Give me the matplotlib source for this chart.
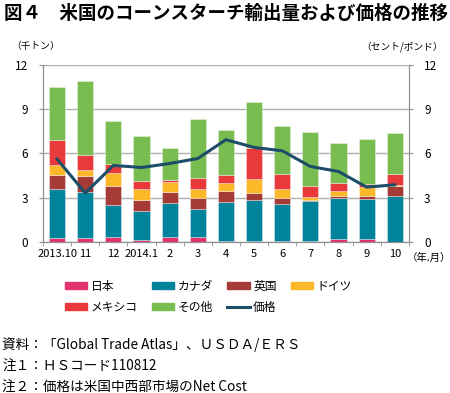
import matplotlib
matplotlib.use("Agg")
import matplotlib.pyplot as plt
import numpy as np
from matplotlib.patches import Patch
from matplotlib.lines import Line2D

plt.rcParams['font.family'] = ['Noto Sans CJK JP', 'DejaVu Sans']

months = ["2013.10", "11", "12", "2014.1", "2", "3", "4", "5", "6", "7", "8", "9", "10"]
japan   = [0.30, 0.27, 0.32, 0.16, 0.36, 0.34, 0.09, 0.07, 0.05, 0.05, 0.20, 0.20, 0.02]
canada  = [3.30, 3.09, 2.16, 1.92, 2.32, 1.89, 2.62, 2.75, 2.52, 2.70, 2.78, 2.71, 3.07]
uk      = [0.92, 1.11, 1.29, 0.78, 0.70, 0.73, 0.72, 0.47, 0.39, 0.11, 0.11, 0.18, 0.68]
germany = [0.70, 0.40, 0.88, 0.73, 0.66, 0.63, 0.59, 0.95, 0.65, 0.16, 0.34, 0.65, 0.09]
mexico  = [1.69, 1.02, 0.67, 0.56, 0.16, 0.72, 0.49, 2.14, 0.99, 0.81, 0.56, 0.21, 0.72]
other   = [3.57, 5.00, 2.89, 3.02, 2.16, 4.01, 3.05, 3.12, 3.23, 3.64, 2.75, 3.04, 2.82]
price   = [5.62, 3.32, 5.19, 5.05, 5.32, 5.66, 6.93, 6.41, 6.18, 5.12, 4.78, 3.72, 3.88]

series = [("日本", japan, "#E2336F"), ("カナダ", canada, "#00849B"),
          ("英国", uk, "#A43B36"), ("ドイツ", germany, "#FBB829"),
          ("メキシコ", mexico, "#E8393B"), ("その他", other, "#79BD50")]
line_color = "#1C4E69"

fig = plt.figure(figsize=(4.5, 3.93), dpi=100)
ax = fig.add_axes([0.0956, 0.384, 0.813, 0.451])
x = np.arange(len(months))
bottom = np.zeros(len(months))
for name, vals, col in series:
    ax.bar(x, vals, 0.57, bottom=bottom, color=col, edgecolor=(1, 1, 1, 0.5), linewidth=0.5, zorder=3)
    bottom += np.array(vals)

ax.set_xlim(-0.5, len(months) - 0.5)
ax.set_ylim(0, 12)
ax.set_yticks([0, 3, 6, 9, 12])
ax.yaxis.grid(True, color="#B0B0B0", linewidth=1.0, zorder=0)
ax.set_axisbelow(True)
ax.set_xticks(x)
ax.set_xticklabels(months, fontsize=8)
ax.set_xticks(np.arange(-0.5, len(months)), minor=True)
ax.tick_params(axis='x', which='major', length=0, pad=5)
ax.tick_params(axis='x', which='minor', length=3, color="#909090", direction='out')
ax.tick_params(axis='y', length=3, color="#909090", labelsize=8.5, pad=8)
for s in ["top"]:
    ax.spines[s].set_visible(False)
for s in ["left", "bottom", "right"]:
    ax.spines[s].set_color("#909090")

ax2 = ax.twinx()
ax2.plot(x, price, color=line_color, linewidth=2.2, zorder=5)
ax2.set_ylim(0, 12)
ax2.set_yticks([0, 3, 6, 9, 12])
ax2.tick_params(axis='y', length=3, color="#909090", labelsize=8.5, pad=8)
ax2.spines["top"].set_visible(False)
for s in ["left", "bottom", "right"]:
    ax2.spines[s].set_color("#909090")

fig.text(0.01, 0.966, "図４　米国のコーンスターチ輸出量および価格の推移", fontsize=13.3,
         fontweight='bold', va='center', ha='left')
fig.text(0.025, 0.882, "（千トン）", fontsize=7, va='center', ha='left')
fig.text(0.985, 0.882, "（セント/ポンド）", fontsize=7, va='center', ha='right')
fig.text(0.904, 0.343, "（年.月）", fontsize=7.5, va='center', ha='left')

handles = [Patch(color=c) for _, _, c in series] + [Line2D([0], [0], color=line_color, lw=2.2)]
labels = [n for n, _, _ in series] + ["価格"]
order = [0, 4, 1, 5, 2, 6, 3]
fig.legend([handles[i] for i in order], [labels[i] for i in order], ncol=4,
           loc='center left', bbox_to_anchor=(0.12, 0.245), frameon=False, fontsize=8.5,
           handlelength=1.9, handleheight=0.6, handletextpad=0.3, columnspacing=1.2,
           labelspacing=0.65)

notes = ["資料：「Global Trade Atlas」、ＵＳＤＡ/ＥＲＳ", "注１：ＨＳコード110812",
         "注２：価格は米国中西部市場のNet Cost"]
for i, t in enumerate(notes):
    fig.text(0.005, 0.122 - i * 0.054, t, fontsize=9.8, va='center', ha='left')

fig.savefig("out.png", dpi=100)
